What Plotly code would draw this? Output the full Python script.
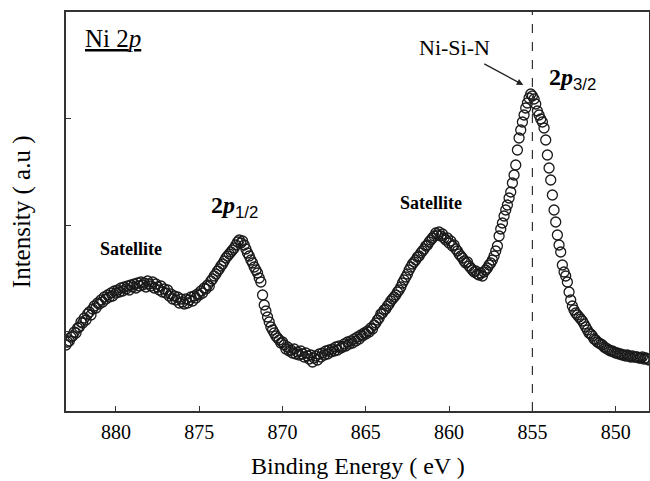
import plotly.graph_objects as go

# Binding energy grid (eV), high -> low, 0.1 eV step
E_START = 883.0
E_STEP = 0.1
# Intensity (a.u.), one value per 0.1 eV starting at 883.0 eV
intensity = [
    66, 69, 70, 74, 75, 79, 78, 83, 84, 89,        # 883.0 - 882.1
    88, 93, 91, 97, 99, 96, 102, 105, 103, 108,    # 882.0 - 881.1
    107, 111, 109, 114, 112, 116, 114, 118, 115, 120,
    118, 121, 119, 123, 120, 124, 122, 125, 121, 126,
    124, 127, 123, 128, 125, 129, 126, 128, 124, 130,
    127, 125, 129, 123, 127, 124, 121, 125, 119, 122,  # 878.0
    118, 121, 115, 117, 112, 115, 111, 114, 108, 112,
    109, 107, 112, 108, 111, 114, 110, 115, 113, 117,  # 876.0
    116, 120, 118, 123, 122, 126, 125, 130, 132, 135,
    137, 140, 142, 145, 147, 150, 153, 155, 157, 159,  # 874.0
    161, 163, 166, 169, 171, 168, 170, 166, 162, 158,
    155, 151, 148, 144, 141, 138, 133, 129, 116, 106,  # 872.0
    100, 94, 89, 84, 81, 78, 75, 73, 71, 68,
    69, 66, 62, 64, 60, 61, 58, 62, 57, 59,            # 870.0
    56, 60, 57, 54, 58, 55, 52, 56, 49, 53,
    55, 51, 57, 54, 58, 56, 60, 57, 61, 59,            # 868.0
    62, 60, 64, 61, 65, 63, 64, 67, 65, 69,
    67, 70, 68, 72, 70, 74, 72, 76, 75, 78,            # 866.0
    77, 80, 79, 83, 82, 86, 88, 91, 93, 97,
    98, 101, 102, 105, 107, 110, 112, 114, 116, 119,   # 864.0
    121, 124, 128, 131, 134, 137, 141, 144, 147, 149,
    151, 154, 155, 158, 160, 162, 165, 166, 169, 171,  # 862.0
    173, 175, 178, 176, 179, 175, 177, 173, 171, 173,
    168, 170, 165, 166, 162, 160, 157, 155, 153, 150,  # 860.0
    148, 149, 145, 143, 141, 139, 140, 137, 136, 138,
    135, 139, 141, 143, 146, 148, 151, 155, 160, 165,  # 858.0
    175, 182, 188, 195, 201, 206, 213, 219, 228, 236,
    246, 261, 273, 281, 289, 296, 303, 308, 313, 317,  # 856.0
    315, 312, 307, 300, 296, 292, 289, 283, 271, 256,
    243, 231, 216, 201, 189, 176, 166, 159, 146, 139,  # 854.0
    135, 129, 119, 111, 105, 101, 98, 96, 94, 92,
    90, 87, 84, 81, 78, 77, 75, 72, 71, 69,            # 852.0
    68, 67, 66, 64, 63, 62, 61, 60, 60, 59,
    58, 58, 57, 57, 56, 56, 55, 56, 55, 54,            # 850.0
    55, 54, 54, 54, 53, 53, 54, 52, 53, 52,
    51,                                                # 848.0
]
energy = [round(E_START - E_STEP * i, 1) for i in range(len(intensity))]

x_ticks = [880, 875, 870, 865, 860, 855, 850]
y_ticks = [80, 186, 293]
peak_line = 855.0

SERIF = "Liberation Serif"

fig = go.Figure()
fig.add_trace(go.Scatter(
    x=energy, y=intensity, mode="markers",
    marker=dict(symbol="circle-open", size=10, color="#1a1a1a", line=dict(width=1.3)),
    showlegend=False, cliponaxis=True, hoverinfo="skip",
))

fig.add_shape(type="line", xref="x", yref="paper", x0=peak_line, x1=peak_line, y0=0, y1=1,
              line=dict(color="#333333", width=1.2, dash="dash"))

anns = [
    dict(x=880.2, y=373, text="<u>Ni 2<i>p</i></u>", font=dict(size=25, family=SERIF)),
    dict(x=872.9, y=204,
         text="<b>2<i>p</i></b><sub><span style='font-family:Liberation Sans'>1/2</span></sub>",
         font=dict(size=24, family=SERIF)),
    dict(x=852.6, y=332,
         text="<b>2<i>p</i></b><sub><span style='font-family:Liberation Sans'>3/2</span></sub>",
         font=dict(size=24, family=SERIF)),
    dict(x=879.1, y=162, text="<b>Satellite</b>", font=dict(size=18, family=SERIF)),
    dict(x=861.1, y=208, text="<b>Satellite</b>", font=dict(size=18, family=SERIF)),
    dict(x=859.7, y=364, text="Ni-Si-N", font=dict(size=22, family=SERIF)),
]
for a in anns:
    fig.add_annotation(xref="x", yref="y", showarrow=False, font_color="black", **a)

fig.add_annotation(x=855.55, y=326, ax=857.98, ay=348, xref="x", yref="y", axref="x", ayref="y",
                   text="", showarrow=True, arrowhead=2, arrowsize=1, arrowwidth=1.3,
                   arrowcolor="#222222")

# axis titles
fig.add_annotation(xref="paper", yref="paper", x=0.5, y=-0.138, text="Binding Energy ( eV )",
                   showarrow=False, font=dict(size=24, family=SERIF, color="black"),
                   xanchor="center", yanchor="middle")
fig.add_annotation(xref="paper", yref="paper", x=-0.076, y=0.5, text="Intensity ( a.u )",
                   textangle=-90, showarrow=False,
                   font=dict(size=25, family=SERIF, color="black"),
                   xanchor="center", yanchor="middle")

fig.update_layout(
    width=650, height=481,
    margin=dict(l=66, r=1, t=12, b=70),
    paper_bgcolor="white", plot_bgcolor="white",
    font=dict(family=SERIF, color="black"),
)
fig.update_xaxes(
    range=[883, 848], tickvals=x_ticks, ticks="inside", ticklen=5, tickwidth=1.2,
    tickcolor="#333333", showline=True, linecolor="#333333", linewidth=1.5, mirror=True,
    showgrid=False, zeroline=False, tickfont=dict(size=20, family=SERIF, color="black"),
    ticklabelstandoff=2, automargin=False,
)
fig.update_yaxes(
    range=[0, 399], tickvals=y_ticks, ticks="inside", ticklen=5, tickwidth=1.2,
    tickcolor="#333333", showline=True, linecolor="#333333", linewidth=1.5, mirror=True,
    showgrid=False, zeroline=False, showticklabels=False, automargin=False,
)

fig.write_html(
    "out.html",
    config={"displayModeBar": False},
    post_script="document.body.style.margin='0';document.body.style.overflow='hidden';",
)
